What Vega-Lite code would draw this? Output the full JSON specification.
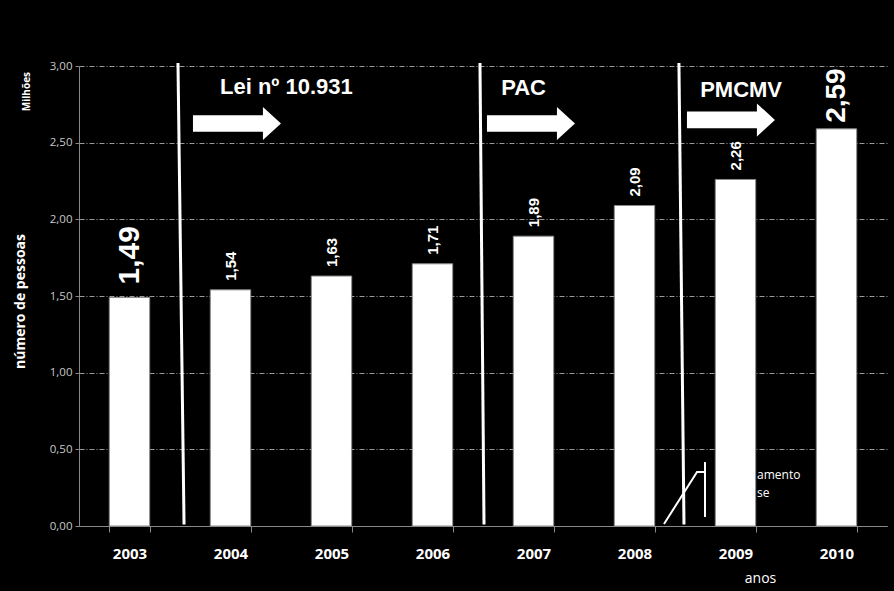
{
  "$schema": "https://vega.github.io/schema/vega-lite/v6.json",
  "width": 808,
  "height": 460,
  "autosize": {"type": "none"},
  "padding": {"left": 79, "top": 66, "right": 7, "bottom": 65},
  "background": "#000000",
  "config": {
    "view": {"stroke": null},
    "locale": {"number": {"decimal": ",", "thousands": ".", "grouping": [3], "currency": ["R$", ""]}}
  },
  "datasets": {
    "bars": [
      {"year": "2003", "value": 1.49},
      {"year": "2004", "value": 1.54},
      {"year": "2005", "value": 1.63},
      {"year": "2006", "value": 1.71},
      {"year": "2007", "value": 1.89},
      {"year": "2008", "value": 2.09},
      {"year": "2009", "value": 2.26},
      {"year": "2010", "value": 2.59}
    ],
    "dividers": [
      {"x_top": 0.98, "x_bottom": 1.04, "y_top": 3.02, "y_bottom": 0.01},
      {"x_top": 3.97, "x_bottom": 4.01, "y_top": 3.02, "y_bottom": 0.01},
      {"x_top": 5.94, "x_bottom": 5.99, "y_top": 3.02, "y_bottom": 0.01}
    ],
    "arrows": [
      {"x": 1.564, "y": 2.625},
      {"x": 4.475, "y": 2.625},
      {"x": 6.455, "y": 2.648}
    ],
    "policies": [
      {"label": "Lei nº 10.931", "x": 1.396, "y": 2.817},
      {"label": "PAC", "x": 4.18, "y": 2.81},
      {"label": "PMCMV", "x": 6.15, "y": 2.798}
    ],
    "note": [
      {"label": "amento", "x": 6.713, "y": 0.333},
      {"label": "se", "x": 6.713, "y": 0.215}
    ],
    "sketch": [
      {"x": 5.792, "y": 0.013, "order": 1, "part": "a"},
      {"x": 6.119, "y": 0.352, "order": 2, "part": "a"},
      {"x": 6.198, "y": 0.352, "order": 3, "part": "a"},
      {"x": 6.198, "y": 0.417, "order": 1, "part": "b"},
      {"x": 6.198, "y": 0.059, "order": 2, "part": "b"}
    ],
    "unit": [{"label": "Milhões", "x": -0.515, "y": 2.961}]
  },
  "layer": [
    {
      "data": {"name": "bars"},
      "encoding": {
        "x": {
          "field": "year",
          "type": "nominal",
          "sort": null,
          "scale": {"paddingInner": 0.6, "paddingOuter": 0.3},
          "axis": {
            "title": "anos",
            "titleFont": "Open Sans",
            "titleFontSize": 14,
            "titleFontWeight": "normal",
            "titleColor": "#ffffff",
            "titleX": 681,
            "titleY": 52,
            "titleAlign": "center",
            "titleBaseline": "middle",
            "labelAngle": 0,
            "labelFont": "Open Sans",
            "labelFontSize": 15,
            "labelFontWeight": "bold",
            "labelColor": "#ffffff",
            "labelPadding": 14,
            "tickSize": 6,
            "tickBand": "extent",
            "tickColor": "#888888",
            "domainColor": "#888888"
          }
        },
        "y": {
          "field": "value",
          "type": "quantitative",
          "scale": {"domain": [0, 3], "nice": false},
          "axis": {
            "title": "número de pessoas",
            "titleFont": "Open Sans",
            "titleFontSize": 14,
            "titleFontWeight": "bold",
            "titleColor": "#ffffff",
            "titleX": -59,
            "titleY": 235,
            "titleAngle": -90,
            "titleAlign": "center",
            "titleBaseline": "middle",
            "values": [0, 0.5, 1, 1.5, 2, 2.5, 3],
            "format": ".2f",
            "labelFont": "Open Sans",
            "labelFontSize": 11.5,
            "labelColor": "#c8c8c8",
            "labelPadding": 3,
            "tickSize": 4,
            "tickColor": "#888888",
            "domainColor": "#888888",
            "grid": true,
            "gridColor": "#999999",
            "gridDash": [5, 2, 1, 2],
            "gridWidth": 1
          }
        }
      },
      "layer": [
        {"mark": {"type": "bar", "fill": "#ffffff", "stroke": "#8a8a8a", "strokeWidth": 1}},
        {
          "transform": [{"filter": "datum.year !== '2003' && datum.year !== '2010'"}],
          "mark": {"type": "text", "angle": -90, "align": "left", "baseline": "middle", "dx": 9, "font": "Liberation Sans", "fontSize": 15, "fontWeight": "bold", "fill": "#ffffff"},
          "encoding": {"text": {"field": "value", "type": "quantitative", "format": ".2f"}}
        },
        {
          "transform": [{"filter": "datum.year === '2003'"}],
          "mark": {"type": "text", "angle": -90, "align": "left", "baseline": "middle", "dx": 13, "font": "Liberation Sans", "fontSize": 30, "fontWeight": "bold", "fill": "#ffffff"},
          "encoding": {"text": {"field": "value", "type": "quantitative", "format": ".2f"}}
        },
        {
          "transform": [{"filter": "datum.year === '2010'"}],
          "mark": {"type": "text", "angle": -90, "align": "left", "baseline": "middle", "dx": 6, "font": "Liberation Sans", "fontSize": 28, "fontWeight": "bold", "fill": "#ffffff"},
          "encoding": {"text": {"field": "value", "type": "quantitative", "format": ".2f"}}
        }
      ]
    },
    {
      "data": {"name": "dividers"},
      "mark": {"type": "rule", "stroke": "#ffffff", "strokeWidth": 3},
      "encoding": {
        "x": {"field": "x_top", "type": "quantitative", "scale": {"domain": [0, 8], "nice": false, "zero": false}, "axis": null},
        "x2": {"field": "x_bottom"},
        "y": {"field": "y_top", "type": "quantitative", "scale": {"domain": [0, 3], "nice": false}, "axis": null},
        "y2": {"field": "y_bottom"}
      }
    },
    {
      "data": {"name": "arrows"},
      "mark": {"type": "point", "shape": "M-1,-0.19L0.59,-0.19L0.59,-0.375L1,0L0.59,0.375L0.59,0.19L-1,0.19Z", "filled": true, "fill": "#ffffff", "strokeWidth": 0, "size": 7744, "opacity": 1},
      "encoding": {
        "x": {"field": "x", "type": "quantitative", "scale": {"domain": [0, 8], "nice": false, "zero": false}, "axis": null},
        "y": {"field": "y", "type": "quantitative", "scale": {"domain": [0, 3], "nice": false}, "axis": null}
      }
    },
    {
      "data": {"name": "policies"},
      "mark": {"type": "text", "align": "left", "baseline": "alphabetic", "font": "Liberation Sans", "fontSize": 22, "fontWeight": "bold", "fill": "#ffffff"},
      "encoding": {
        "x": {"field": "x", "type": "quantitative", "scale": {"domain": [0, 8], "nice": false, "zero": false}, "axis": null},
        "y": {"field": "y", "type": "quantitative", "scale": {"domain": [0, 3], "nice": false}, "axis": null},
        "text": {"field": "label"}
      }
    },
    {
      "data": {"name": "note"},
      "mark": {"type": "text", "align": "left", "baseline": "middle", "font": "Open Sans", "fontSize": 12, "fill": "#ffffff"},
      "encoding": {
        "x": {"field": "x", "type": "quantitative", "scale": {"domain": [0, 8], "nice": false, "zero": false}, "axis": null},
        "y": {"field": "y", "type": "quantitative", "scale": {"domain": [0, 3], "nice": false}, "axis": null},
        "text": {"field": "label"}
      }
    },
    {
      "data": {"name": "sketch"},
      "mark": {"type": "line", "stroke": "#ffffff", "strokeWidth": 2},
      "encoding": {
        "x": {"field": "x", "type": "quantitative", "scale": {"domain": [0, 8], "nice": false, "zero": false}, "axis": null},
        "y": {"field": "y", "type": "quantitative", "scale": {"domain": [0, 3], "nice": false}, "axis": null},
        "detail": {"field": "part"},
        "order": {"field": "order"}
      }
    },
    {
      "data": {"name": "unit"},
      "mark": {"type": "text", "angle": -90, "align": "right", "baseline": "middle", "font": "Open Sans", "fontSize": 10, "fontWeight": "bold", "fill": "#ffffff"},
      "encoding": {
        "x": {"field": "x", "type": "quantitative", "scale": {"domain": [0, 8], "nice": false, "zero": false}, "axis": null},
        "y": {"field": "y", "type": "quantitative", "scale": {"domain": [0, 3], "nice": false}, "axis": null},
        "text": {"field": "label"}
      }
    }
  ],
  "resolve": {"scale": {"x": "independent"}, "axis": {"x": "independent", "y": "independent"}}
}
